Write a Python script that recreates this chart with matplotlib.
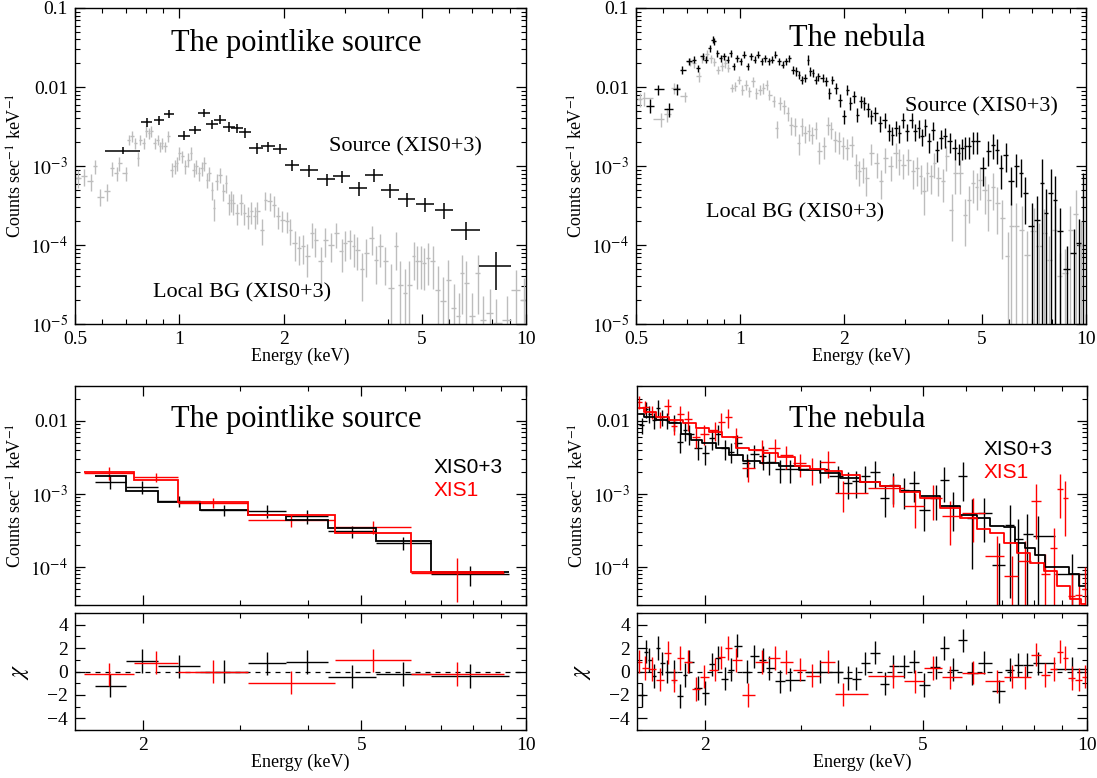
import numpy as np
import matplotlib
matplotlib.use("Agg")
import matplotlib.pyplot as plt
from matplotlib import ticker

plt.rcParams['font.family'] = ['Liberation Serif', 'DejaVu Serif']
plt.rcParams['mathtext.fontset'] = 'stix'
plt.rcParams['axes.linewidth'] = 1.0

# ---------------- top left: pointlike source, XIS0+3 ----------------
pt_src_e = [0.69, 0.805, 0.873, 0.936, 1.03, 1.11, 1.18, 1.245, 1.31, 1.39, 1.47, 1.55,
            1.67, 1.80, 1.95, 2.12, 2.37, 2.66, 2.94, 3.29, 3.65, 4.06, 4.53, 5.12, 5.81,
            6.72, 8.18]
pt_src_de = [0.08, 0.028, 0.03, 0.032, 0.041, 0.044, 0.047, 0.05, 0.052, 0.055, 0.058, 0.062,
             0.078, 0.084, 0.091, 0.099, 0.14, 0.157, 0.173, 0.194, 0.215, 0.24, 0.267, 0.30,
             0.34, 0.66, 0.87]
pt_src_c = [1.56e-3, 3.57e-3, 3.78e-3, 4.55e-3, 2.42e-3, 2.88e-3, 4.68e-3, 3.40e-3, 3.87e-3,
            3.12e-3, 3.02e-3, 2.67e-3, 1.69e-3, 1.77e-3, 1.66e-3, 1.02e-3, 8.8e-4, 6.8e-4,
            7.4e-4, 5.25e-4, 7.76e-4, 4.9e-4, 3.8e-4, 3.3e-4, 2.75e-4, 1.56e-4, 5.4e-5]
pt_src_rerr = [0.1, 0.12, 0.12, 0.12, 0.13, 0.13, 0.12, 0.13, 0.13, 0.14, 0.14, 0.15, 0.15,
               0.15, 0.15, 0.16, 0.17, 0.18, 0.18, 0.2, 0.18, 0.2, 0.2, 0.2, 0.22, 0.25, 0.5]

pt_bg_e = [0.51, 0.53, 0.555, 0.57, 0.59, 0.62, 0.64, 0.66, 0.67, 0.70,
           0.715, 0.73, 0.745, 0.76, 0.77, 0.79, 0.80, 0.82, 0.83, 0.85,
           0.865, 0.88, 0.89, 0.91, 0.93, 0.95, 0.97, 0.985, 1.00, 1.02,
           1.04, 1.06, 1.08, 1.10, 1.12, 1.14, 1.16, 1.18, 1.20, 1.22,
           1.24, 1.26, 1.28, 1.31, 1.34, 1.36, 1.39, 1.41, 1.43, 1.47,
           1.51, 1.54, 1.58, 1.61, 1.65, 1.68, 1.73, 1.77, 1.82, 1.87,
           1.93, 1.98, 2.05, 2.09, 2.15, 2.22, 2.28, 2.34, 2.41, 2.47,
           2.56, 2.64, 2.74, 2.83, 2.94, 3.01, 3.10, 3.18, 3.26, 3.36,
           3.46, 3.59, 3.69, 3.79, 3.93, 4.09, 4.23, 4.33, 4.48, 4.61,
           4.74, 4.85, 4.97, 5.08, 5.20, 5.38, 5.57, 5.76, 5.97, 6.18,
           6.39, 6.54, 6.72, 7.00, 7.25, 7.50, 7.86, 8.22, 8.81, 9.33, 9.89]
pt_bg_c = [7.05e-4, 7.4e-4, 6.4e-4, 9.9e-4, 4.1e-4, 4.8e-4, 9.4e-4, 8.15e-4, 1.09e-3, 8.15e-4,
           2.15e-3, 2.38e-3, 1.95e-3, 1.26e-3, 2.15e-3, 1.95e-3, 2.75e-3, 2.6e-3, 2.75e-3, 1.95e-3,
           2.15e-3, 1.77e-3, 1.95e-3, 1.77e-3, 2.38e-3, 9.0e-4, 9.9e-4, 1.09e-3, 1.46e-3, 1.33e-3,
           9.9e-4, 1.2e-3, 1.46e-3, 9.0e-4, 9.9e-4, 8.15e-4, 9.4e-4, 1.09e-3, 6.7e-4, 8.15e-4,
           5.0e-4, 2.9e-4, 6.4e-4, 7.8e-4, 4.8e-4, 6.1e-4, 3.4e-4, 3.75e-4, 3.4e-4, 2.54e-4,
           3.4e-4, 2.54e-4, 2.3e-4, 2.67e-4, 2.3e-4, 2.67e-4, 1.56e-4, 3.75e-4, 3.6e-4, 3.25e-4,
           2.3e-4, 2.1e-4, 2.0e-4, 1.56e-4, 1.06e-4, 9.2e-5, 9.6e-5, 7.2e-5, 1.42e-4, 1.17e-4,
           6.2e-5, 1.17e-4, 1.01e-4, 1.42e-4, 8.3e-5, 1.06e-4, 1.11e-4, 9.6e-5, 8.7e-5, 4.9e-5,
           7.9e-5, 1.23e-4, 6.5e-5, 9.6e-5, 6.2e-5, 2.86e-5, 9.6e-5, 3.15e-5, 2.47e-5, 3.15e-5,
           7.2e-5, 6.2e-5, 6.2e-5, 5.9e-5, 6.85e-5, 6.2e-5, 2.72e-5, 1.94e-5, 3.6e-5, 1.6e-5,
           1.25e-5, 4.4e-5, 3.3e-5, 1.25e-5, 4.4e-5, 1.14e-5, 1.38e-5, 1.03e-5, 1.14e-5, 2.72e-5, 2.03e-5]
pt_bg_rerr = [0.25, 0.25, 0.25, 0.2, 0.25, 0.25, 0.2, 0.2, 0.2, 0.2,
              0.15, 0.15, 0.15, 0.2, 0.15, 0.15, 0.15, 0.15, 0.15, 0.15,
              0.15, 0.15, 0.15, 0.15, 0.15, 0.2, 0.2, 0.2, 0.18, 0.18,
              0.2, 0.2, 0.18, 0.2, 0.2, 0.2, 0.2, 0.2, 0.22, 0.2,
              0.25, 0.3, 0.22, 0.22, 0.25, 0.25, 0.3, 0.3, 0.3, 0.3,
              0.3, 0.3, 0.3, 0.3, 0.3, 0.3, 0.35, 0.25, 0.25, 0.3,
              0.3, 0.3, 0.3, 0.35, 0.4, 0.4, 0.4, 0.45, 0.35, 0.4,
              0.5, 0.4, 0.4, 0.35, 0.45, 0.4, 0.4, 0.45, 0.45, 0.6,
              0.5, 0.4, 0.5, 0.45, 0.5, 1.0, 0.5, 1.0, 1.0, 1.0,
              0.5, 0.55, 0.55, 0.55, 0.55, 0.55, 1.0, 1.0, 0.8, 1.0,
              1.0, 0.7, 0.9, 1.0, 0.7, 1.0, 1.0, 1.0, 1.0, 0.8, 0.9]

# ---------------- top right: nebula, XIS0+3 ----------------
neb_src_e = [0.549, 0.579, 0.623, 0.656, 0.681, 0.713, 0.736, 0.754, 0.781, 0.796,
             0.820, 0.833, 0.843, 0.859, 0.879, 0.897, 0.921, 0.942, 0.957, 0.980,
             1.003, 1.027, 1.051, 1.076, 1.101, 1.127, 1.153, 1.180, 1.208, 1.236,
             1.265, 1.295, 1.326, 1.357, 1.389, 1.421, 1.455, 1.479, 1.506, 1.542,
             1.571, 1.596, 1.622, 1.652, 1.683, 1.732, 1.772, 1.813, 1.847, 1.899,
             1.944, 1.999, 2.037, 2.085, 2.134, 2.184, 2.236, 2.288, 2.342, 2.397,
             2.453, 2.540, 2.617, 2.691, 2.754, 2.819, 2.885, 2.966, 3.035, 3.13,
             3.20, 3.28, 3.36, 3.43, 3.52, 3.60, 3.71, 3.81, 3.90, 4.04,
             4.18, 4.28, 4.38, 4.48, 4.59, 4.70, 4.83, 5.04, 5.22, 5.40,
             5.53, 5.66, 5.86, 6.07, 6.29, 6.48, 6.66, 6.97, 7.22, 7.48,
             7.65, 7.93, 8.11, 8.40, 8.80, 9.22, 9.54, 9.77]
neb_src_c = [5.8e-3, 9.3e-3, 5.2e-3, 9.4e-3, 0.0166, 0.0211, 0.0222, 0.0174, 0.0244, 0.0222,
             0.0312, 0.0397, 0.0378, 0.0269, 0.0233, 0.0244, 0.0222, 0.0269, 0.0183, 0.0233,
             0.0211, 0.0257, 0.0183, 0.0244, 0.0222, 0.0257, 0.0211, 0.0233, 0.0211, 0.0222,
             0.0257, 0.0211, 0.0192, 0.0211, 0.0233, 0.0166, 0.0158, 0.0143, 0.0124, 0.0130,
             0.0222, 0.0158, 0.0150, 0.0124, 0.0136, 0.0130, 0.0118, 8.4e-3, 0.0124, 9.7e-3,
             6.9e-3, 4.26e-3, 9.25e-3, 6.3e-3, 7.6e-3, 4.47e-3, 6.6e-3, 6.3e-3, 5.2e-3, 4.26e-3,
             4.7e-3, 3.5e-3, 3.86e-3, 2.75e-3, 2.49e-3, 3.03e-3, 2.62e-3, 3.86e-3, 2.75e-3, 3.86e-3,
             2.75e-3, 3.03e-3, 2.38e-3, 3.18e-3, 2.05e-3, 2.88e-3, 1.61e-3, 2.26e-3, 2.38e-3, 2.05e-3,
             1.69e-3, 1.46e-3, 1.69e-3, 1.77e-3, 1.77e-3, 2.05e-3, 2.05e-3, 9.4e-4, 1.53e-3, 1.86e-3,
             1.61e-3, 9.4e-4, 1.39e-3, 6.4e-4, 9.9e-4, 8.1e-4, 4.55e-4, 1.72e-4, 2.1e-4, 6.1e-4,
             2.54e-4, 4.55e-4, 3.75e-4, 1.49e-4, 4.9e-5, 7.9e-5, 1.06e-4, 4.1e-4]
neb_src_rerr = [0.2, 0.15, 0.2, 0.15, 0.12, 0.1, 0.1, 0.1, 0.1, 0.1,
                0.1, 0.1, 0.1, 0.1, 0.1, 0.1, 0.1, 0.1, 0.1, 0.1,
                0.1, 0.1, 0.1, 0.1, 0.1, 0.1, 0.1, 0.1, 0.1, 0.1,
                0.1, 0.1, 0.1, 0.1, 0.1, 0.12, 0.12, 0.12, 0.12, 0.12,
                0.15, 0.12, 0.12, 0.12, 0.12, 0.12, 0.12, 0.15, 0.12, 0.15,
                0.18, 0.2, 0.15, 0.18, 0.18, 0.2, 0.18, 0.18, 0.2, 0.2,
                0.2, 0.22, 0.22, 0.25, 0.25, 0.22, 0.25, 0.22, 0.25, 0.22,
                0.25, 0.25, 0.25, 0.25, 0.28, 0.25, 0.3, 0.28, 0.28, 0.28,
                0.3, 0.3, 0.3, 0.3, 0.3, 0.3, 0.3, 0.4, 0.35, 0.35,
                0.35, 0.45, 0.4, 0.5, 0.45, 0.5, 0.6, 1.0, 1.0, 1.0,
                1.0, 1.0, 1.0, 1.0, 1.0, 1.0, 1.0, 1.0]

neb_bg_e = [0.512, 0.527, 0.592, 0.616, 0.645, 0.692, 0.717, 0.736, 0.760, 0.777,
            0.801, 0.824, 0.843, 0.863, 0.887, 0.904, 0.925, 0.947, 0.969, 0.992,
            1.015, 1.039, 1.063, 1.088, 1.114, 1.140, 1.167, 1.194, 1.216, 1.250,
            1.275, 1.305, 1.336, 1.373, 1.405, 1.438, 1.479, 1.506, 1.542, 1.578,
            1.615, 1.652, 1.691, 1.752, 1.793, 1.835, 1.878, 1.936, 1.981, 2.037,
            2.102, 2.160, 2.211, 2.263, 2.316, 2.397, 2.482, 2.558, 2.630, 2.723,
            2.819, 2.885, 2.966, 3.06, 3.17, 3.24, 3.33, 3.40, 3.48, 3.56,
            3.64, 3.74, 3.86, 3.95, 4.09, 4.18, 4.33, 4.48, 4.59, 4.70,
            4.83, 4.94, 5.10, 5.22, 5.38, 5.53, 5.73, 5.93, 6.07, 6.29,
            6.51, 6.74, 7.06, 7.31, 7.57, 7.84, 8.11, 8.40, 8.69, 9.01, 9.33, 9.66]
neb_bg_c = [7.0e-3, 7.2e-3, 3.9e-3, 4.5e-3, 9.7e-3, 7.6e-3, 0.021, 0.020, 0.0136, 0.023,
            0.026, 0.023, 0.021, 0.0166, 0.0183, 0.020, 0.0174, 9.7e-3, 0.0102, 0.0124,
            9.25e-3, 0.0107, 8.8e-3, 0.0118, 8.4e-3, 9.25e-3, 9.7e-3, 0.0107, 8.0e-3, 6.6e-3,
            3.0e-3, 6.3e-3, 5.7e-3, 4.7e-3, 3.3e-3, 3.2e-3, 1.95e-3, 3.2e-3, 2.6e-3, 2.75e-3,
            2.5e-3, 2.9e-3, 1.53e-3, 1.77e-3, 3.3e-3, 2.9e-3, 2.15e-3, 2.05e-3, 1.77e-3, 1.69e-3,
            1.86e-3, 1.04e-3, 8.6e-4, 9.4e-4, 7.0e-4, 1.46e-3, 1.09e-3, 6.4e-4, 1.26e-3, 9.9e-4,
            1.46e-3, 1.2e-3, 1.04e-3, 1.2e-3, 8.6e-4, 9.4e-4, 7.4e-4, 4.8e-4, 8.1e-4, 7.4e-4,
            1.09e-3, 7.0e-4, 6.4e-4, 1.33e-3, 2.8e-4, 8.1e-4, 8.1e-4, 2.4e-4, 3.75e-4, 6.1e-4,
            5.5e-4, 6.7e-4, 5.0e-4, 3.75e-4, 5.5e-4, 3.4e-4, 2.2e-4, 7.2e-5, 1.72e-4, 1.72e-4,
            1.56e-4, 7.5e-5, 1.49e-4, 9.6e-5, 1.42e-4, 6.5e-5, 1.56e-4, 4.0e-5, 4.4e-5, 1.56e-4,
            2.5e-4, 1.0e-4]
neb_bg_rerr = [0.2, 0.2, 0.2, 0.2, 0.15, 0.15, 0.12, 0.12, 0.15, 0.12,
               0.12, 0.12, 0.12, 0.12, 0.12, 0.12, 0.12, 0.12, 0.12, 0.12,
               0.15, 0.15, 0.15, 0.15, 0.15, 0.15, 0.15, 0.15, 0.15, 0.15,
               0.25, 0.18, 0.2, 0.2, 0.25, 0.25, 0.3, 0.25, 0.25, 0.25,
               0.25, 0.25, 0.3, 0.3, 0.25, 0.25, 0.3, 0.3, 0.3, 0.3,
               0.3, 0.35, 0.35, 0.35, 0.4, 0.3, 0.35, 0.4, 0.35, 0.35,
               0.35, 0.35, 0.35, 0.35, 0.4, 0.4, 0.4, 0.5, 0.4, 0.4,
               0.35, 0.4, 0.45, 0.35, 0.6, 0.45, 0.45, 0.6, 0.5, 0.45,
               0.5, 0.45, 0.5, 0.6, 0.5, 0.6, 0.7, 1.0, 1.0, 1.0,
               1.0, 1.0, 1.0, 1.0, 1.0, 1.0, 1.0, 1.0, 1.0, 1.0, 1.0, 1.0]

# ---------------- bottom left: pointlike source fit ----------------
pt_x03_edges = [1.63, 1.86, 2.13, 2.54, 3.10, 3.65, 4.34, 5.32, 6.70, 9.3]
pt_x03_data = [1.47e-3, 1.26e-3, 8.0e-4, 6.0e-4, 5.8e-4, 4.9e-4, 3.05e-4, 2.15e-4, 7.9e-5]
pt_x03_rerr = [0.2, 0.2, 0.18, 0.18, 0.2, 0.22, 0.18, 0.2, 0.3]
pt_x03_model = [1.74e-3, 1.10e-3, 7.7e-4, 6.05e-4, 5.2e-4, 4.4e-4, 3.4e-4, 2.24e-4, 8.55e-5]
pt_x03_resid = [-1.2, 0.9, 0.45, 0.0, 0.7, 0.8, -0.45, -0.2, -0.4]

pt_x1_edges = [1.56, 1.92, 2.31, 3.11, 4.47, 6.17, 9.1]
pt_x1_data = [1.95e-3, 1.69e-3, 7.6e-4, 4.33e-4, 3.5e-4, 8.3e-5]
pt_x1_rerr = [0.2, 0.15, 0.15, 0.18, 0.2, 0.6]
pt_x1_model = [2.02e-3, 1.55e-3, 7.85e-4, 5.2e-4, 2.9e-4, 8.5e-5]
pt_x1_resid = [-0.25, 0.75, 0.0, -0.95, 0.95, -0.2]

# ---------------- bottom right: nebula fit ----------------
neb_x03_e = [1.53, 1.56, 1.58, 1.61, 1.64, 1.67, 1.70, 1.75, 1.80, 1.84,
             1.87, 1.94, 2.00, 2.06, 2.11, 2.17, 2.23, 2.29, 2.38, 2.46,
             2.55, 2.62, 2.74, 2.86, 3.24, 3.50, 3.65, 3.78, 3.93, 4.09,
             4.26, 4.42, 4.62, 4.82, 5.03, 5.29, 5.47, 5.69, 5.92, 6.15,
             6.48, 6.90, 7.23, 7.49, 7.76, 8.15, 9.38]
neb_x03_c = [8.7e-3, 0.0147, 0.0126, 0.0103, 0.0152, 0.0113, 0.0102, 9.7e-3, 5.2e-3, 7.5e-3,
             6.7e-3, 4.2e-3, 3.6e-3, 5.75e-3, 6.7e-3, 4.2e-3, 3.8e-3, 4.9e-3, 2.63e-3, 3.5e-3,
             3.3e-3, 2.77e-3, 2.18e-3, 2.18e-3, 2.18e-3, 1.73e-3, 1.4e-3, 1.48e-3, 1.73e-3, 2.02e-3,
             8.8e-4, 1.33e-3, 1.14e-3, 1.4e-3, 6.1e-4, 8.8e-4, 1.56e-3, 6.8e-4, 1.77e-3, 4.7e-4,
             5.5e-4, 1.05e-4, 3.7e-4, 2.38e-4, 2.78e-4, 2.64e-4, 7.9e-5]
neb_x03_rerr = [0.25, 0.25, 0.25, 0.25, 0.25, 0.25, 0.25, 0.25, 0.3, 0.3,
                0.3, 0.3, 0.3, 0.3, 0.3, 0.3, 0.3, 0.3, 0.35, 0.35,
                0.35, 0.35, 0.35, 0.35, 0.35, 0.4, 0.4, 0.4, 0.4, 0.4,
                0.45, 0.45, 0.45, 0.45, 0.5, 0.5, 0.5, 0.55, 0.55, 0.8,
                0.6, 1.0, 0.9, 0.9, 0.9, 0.9, 0.9]
neb_x03_resid = [-2.0, 1.7, 1.0, -0.4, 2.0, 0.7, 0.0, 0.0, -2.1, -0.3,
                 0.85, -1.4, -1.85, 0.6, 1.15, -0.6, 0.15, 2.2, 0.0, 1.3,
                 1.0, 0.3, -0.85, -0.7, 0.0, 0.0, -0.55, -0.6, 0.7, 1.6,
                 -1.05, 0.45, 0.45, 0.85, -1.15, 0.35, 2.0, 0.15, 2.65, -0.15,
                 0.75, -1.7, 0.15, 0.55, 0.55, 0.7, 0.2]

neb_x1_e = [1.51, 1.55, 1.60, 1.65, 1.71, 1.75, 1.80, 1.86, 1.92, 1.99,
            2.08, 2.14, 2.20, 2.28, 2.40, 2.54, 2.68, 2.81, 2.98, 3.14,
            3.36, 3.57, 4.42, 4.84, 5.23, 5.61, 6.19, 6.83, 7.28, 7.70,
            8.07, 8.38, 8.71, 8.93, 9.12, 9.38, 9.65, 9.93]
neb_x1_c = [0.0182, 0.0155, 0.0133, 0.0107, 0.0158, 8.5e-3, 0.0126, 0.0105, 6.05e-3, 6.7e-3,
            7.5e-3, 9.7e-3, 0.0113, 6.05e-3, 2.25e-3, 4.0e-3, 4.2e-3, 3.4e-3, 2.63e-3, 2.18e-3,
            2.77e-3, 1.03e-3, 1.2e-3, 6.8e-4, 8.8e-4, 4.95e-4, 5.5e-4, 1.41e-4, 7.5e-5, 1.2e-4,
            7.9e-4, 8.0e-5, 1.8e-4, 1.16e-3, 8.8e-4, 4.0e-5, 4.1e-5, 4.9e-5]
neb_x1_rerr = [0.2, 0.2, 0.2, 0.25, 0.25, 0.25, 0.25, 0.3, 0.3, 0.3,
               0.3, 0.3, 0.3, 0.3, 0.35, 0.35, 0.35, 0.35, 0.35, 0.4,
               0.4, 0.45, 0.45, 0.5, 0.5, 0.6, 0.6, 0.9, 0.9, 0.9,
               0.7, 0.9, 0.9, 0.6, 0.7, 1.0, 1.0, 1.0]
neb_x1_resid = [0.85, 0.3, 0.2, -0.7, 1.6, -0.75, 1.15, 0.85, -1.5, -0.45,
                0.15, 1.2, 2.0, 1.0, -2.0, 0.8, 1.15, 0.8, 0.15, -0.35,
                0.85, -1.95, -0.4, -0.85, 0.3, -0.5, -0.1, -0.85, -0.45, -0.5,
                1.45, -0.3, 0.2, 1.7, 1.15, -0.55, -0.7, -0.45]

neb_x03_mod_e = [1.51, 1.58, 1.67, 1.77, 1.84, 1.92, 2.03, 2.15, 2.28, 2.41, 2.62, 2.85, 3.10,
                 3.38, 3.68, 4.00, 4.35, 4.74, 5.15, 5.61, 6.11, 6.46, 6.84, 7.23, 7.54, 7.87,
                 8.21, 8.56, 9.06, 9.45, 9.86]
neb_x03_mod = [0.0123, 0.0113, 0.0104, 9.2e-3, 6.7e-3, 5.5e-3, 5.0e-3, 4.3e-3, 3.4e-3, 2.86e-3,
               2.63e-3, 2.4e-3, 2.1e-3, 1.92e-3, 1.67e-3, 1.43e-3, 1.29e-3, 1.08e-3, 9.2e-4,
               6.9e-4, 5.2e-4, 4.7e-4, 3.6e-4, 3.55e-4, 2.15e-4, 1.8e-4, 1.43e-4, 9.8e-5, 9.8e-5,
               8.0e-5, 5.5e-5]
neb_x1_mod_e = [1.51, 1.58, 1.67, 1.77, 1.87, 1.98, 2.09, 2.21, 2.34, 2.48, 2.62, 2.81, 3.02,
                3.19, 3.43, 3.68, 4.00, 4.35, 4.74, 5.15, 5.61, 6.11, 6.46, 6.84, 7.23, 7.65,
                8.10, 8.56, 9.06, 9.59, 9.93]
neb_x1_mod = [0.0152, 0.0132, 0.0113, 0.0104, 9.2e-3, 7.9e-3, 7.1e-3, 6.0e-3, 4.2e-3, 4.0e-3,
              3.6e-3, 3.2e-3, 2.37e-3, 2.2e-3, 2.03e-3, 1.8e-3, 1.43e-3, 1.27e-3, 1.05e-3, 8.8e-4,
              6.4e-4, 4.7e-4, 3.3e-4, 2.9e-4, 2.15e-4, 1.56e-4, 1.14e-4, 8.9e-5, 5.5e-5, 3.6e-5,
              3.1e-5]

GRAY = '#bdbdbd'
RED = '#ff0000'
W, H = 1097, 778


def box(x0, y0, x1, y1):
    return [x0 / W, 1 - y1 / H, (x1 - x0) / W, (y1 - y0) / H]


def halfwidths(e):
    le = np.log10(np.asarray(e, float))
    d = np.diff(le) / 2
    dl = np.r_[d[0], d]
    dr = np.r_[d, d[-1]]
    return [10**le - 10**(le - dl), 10**(le + dr) - 10**le]


def crosses(ax, e, c, rerr, color, lw=1.0, xerr=None, z=2):
    e = np.asarray(e, float)
    c = np.asarray(c, float)
    r = np.asarray(rerr, float)
    if xerr is None:
        xerr = halfwidths(e)
    lo = np.minimum(c * r, c * 0.999)
    ax.errorbar(e, c, xerr=xerr, yerr=[lo, c * r], fmt='none', ecolor=color,
                elinewidth=lw, capsize=0, zorder=z)


def edge_xerr(edges):
    ed = np.asarray(edges, float)
    mid = np.sqrt(ed[:-1] * ed[1:])
    return mid, [mid - ed[:-1], ed[1:] - mid]


def log_axis(axis, ticks, labels):
    axis.set_major_locator(ticker.FixedLocator(ticks))
    axis.set_major_formatter(ticker.FixedFormatter(labels))
    axis.set_minor_locator(ticker.LogLocator(base=10, subs=np.arange(2, 10) * 1.0, numticks=30))
    axis.set_minor_formatter(ticker.NullFormatter())


def style(ax):
    ax.tick_params(which='both', direction='in', top=True, right=True, labelsize=14)
    ax.tick_params(which='major', length=7, width=0.9, pad=5)
    ax.tick_params(which='minor', length=3.5, width=0.8)


ylab = r'Counts sec$^{-1}$ keV$^{-1}$'
fig = plt.figure(figsize=(10.97, 7.78), dpi=100)

# top panels
ax_tl = fig.add_axes(box(75, 8, 526, 324))
ax_tr = fig.add_axes(box(636, 8, 1086, 324))
for ax in (ax_tl, ax_tr):
    ax.set_xscale('log')
    ax.set_yscale('log')
    log_axis(ax.xaxis, [0.5, 1, 2, 5, 10], ['0.5', '1', '2', '5', '10'])
    log_axis(ax.yaxis, [1e-5, 1e-4, 1e-3, 1e-2, 1e-1],
             [r'$10^{-5}$', r'$10^{-4}$', r'$10^{-3}$', '0.01', '0.1'])
    ax.set_xlim(0.5, 10)
    ax.set_ylim(1e-5, 0.1)
    style(ax)
    ax.set_xlabel('Energy (keV)', fontsize=13, labelpad=0)
    ax.set_ylabel(ylab, fontsize=13, labelpad=3)

crosses(ax_tl, pt_bg_e, pt_bg_c, pt_bg_rerr, GRAY, lw=1.0)
crosses(ax_tl, pt_src_e, pt_src_c, pt_src_rerr, 'black', lw=1.1, xerr=pt_src_de, z=3)
ax_tl.text(0.49, 0.889, 'The pointlike source', transform=ax_tl.transAxes,
           ha='center', va='center', fontsize=22)
ax_tl.text(0.732, 0.56, 'Source (XIS0+3)', transform=ax_tl.transAxes,
           ha='center', va='center', fontsize=16)
ax_tl.text(0.37, 0.098, 'Local BG (XIS0+3)', transform=ax_tl.transAxes,
           ha='center', va='center', fontsize=16)

crosses(ax_tr, neb_bg_e, neb_bg_c, neb_bg_rerr, GRAY, lw=1.0)
crosses(ax_tr, neb_src_e, neb_src_c, neb_src_rerr, 'black', lw=1.0, z=3)
ax_tr.text(0.492, 0.905, 'The nebula', transform=ax_tr.transAxes,
           ha='center', va='center', fontsize=22)
ax_tr.text(0.767, 0.687, 'Source (XIS0+3)', transform=ax_tr.transAxes,
           ha='center', va='center', fontsize=16)
ax_tr.text(0.353, 0.351, 'Local BG (XIS0+3)', transform=ax_tr.transAxes,
           ha='center', va='center', fontsize=16)

# bottom panels
ax_bl = fig.add_axes(box(75, 386, 526, 605))
ax_blr = fig.add_axes(box(75, 613, 526, 730), sharex=ax_bl)
ax_br = fig.add_axes(box(637, 386, 1087, 605))
ax_brr = fig.add_axes(box(637, 613, 1087, 730), sharex=ax_br)

for ax, axr in ((ax_bl, ax_blr), (ax_br, ax_brr)):
    ax.set_xscale('log')
    ax.set_yscale('log')
    log_axis(ax.xaxis, [2, 5, 10], ['2', '5', '10'])
    log_axis(ax.yaxis, [1e-4, 1e-3, 1e-2], [r'$10^{-4}$', r'$10^{-3}$', '0.01'])
    ax.set_xlim(1.5, 10)
    ax.set_ylim(3e-5, 0.03)
    style(ax)
    ax.tick_params(labelbottom=False)
    ax.set_ylabel(ylab, fontsize=13, labelpad=3)
    axr.set_ylim(-5, 5)
    axr.yaxis.set_major_locator(ticker.FixedLocator([-4, -2, 0, 2, 4]))
    axr.yaxis.set_major_formatter(ticker.FixedFormatter(['\u22124', '\u22122', '0', '2', '4']))
    axr.yaxis.set_minor_locator(ticker.MultipleLocator(1))
    style(axr)
    axr.axhline(0, color='black', lw=0.9, ls=(0, (4, 4)), zorder=1)
    axr.set_xlabel('Energy (keV)', fontsize=13, labelpad=0)
    axr.set_ylabel(r'$\chi$', fontsize=17, labelpad=12)

# pointlike source fit
c03, xe03 = edge_xerr(pt_x03_edges)
c1, xe1 = edge_xerr(pt_x1_edges)
ax_bl.stairs(pt_x03_model, pt_x03_edges, color='black', lw=1.3, baseline=None, zorder=3)
ax_bl.stairs(pt_x1_model, pt_x1_edges, color=RED, lw=1.3, baseline=None, zorder=3)
crosses(ax_bl, c03, pt_x03_data, pt_x03_rerr, 'black', lw=1.0, xerr=xe03)
crosses(ax_bl, c1, pt_x1_data, pt_x1_rerr, RED, lw=1.0, xerr=xe1)
ax_blr.errorbar(c03, pt_x03_resid, xerr=xe03, yerr=1.0, fmt='none', ecolor='black',
                elinewidth=1.0, capsize=0)
ax_blr.errorbar(c1, pt_x1_resid, xerr=xe1, yerr=1.0, fmt='none', ecolor=RED,
                elinewidth=1.0, capsize=0)
ax_bl.text(0.49, 0.845, 'The pointlike source', transform=ax_bl.transAxes,
           ha='center', va='center', fontsize=22)
ax_bl.text(0.794, 0.626, 'XIS0+3', transform=ax_bl.transAxes, ha='left', va='center',
           fontsize=15, family='Liberation Sans', color='black')
ax_bl.text(0.794, 0.525, 'XIS1', transform=ax_bl.transAxes, ha='left', va='center',
           fontsize=15, family='Liberation Sans', color=RED)

# nebula fit
ax_br.step(neb_x03_mod_e, neb_x03_mod, where='mid', color='black', lw=1.3, zorder=3)
ax_br.step(neb_x1_mod_e, neb_x1_mod, where='mid', color=RED, lw=1.3, zorder=3)
crosses(ax_br, neb_x03_e, neb_x03_c, neb_x03_rerr, 'black', lw=1.0)
crosses(ax_br, neb_x1_e, neb_x1_c, neb_x1_rerr, RED, lw=1.0)
ax_brr.errorbar(neb_x03_e, neb_x03_resid, xerr=halfwidths(neb_x03_e), yerr=1.0, fmt='none',
                ecolor='black', elinewidth=1.0, capsize=0)
ax_brr.errorbar(neb_x1_e, neb_x1_resid, xerr=halfwidths(neb_x1_e), yerr=1.0, fmt='none',
                ecolor=RED, elinewidth=1.0, capsize=0)
ax_br.text(0.489, 0.845, 'The nebula', transform=ax_br.transAxes,
           ha='center', va='center', fontsize=22)
ax_br.text(0.769, 0.708, 'XIS0+3', transform=ax_br.transAxes, ha='left', va='center',
           fontsize=15, family='Liberation Sans', color='black')
ax_br.text(0.769, 0.603, 'XIS1', transform=ax_br.transAxes, ha='left', va='center',
           fontsize=15, family='Liberation Sans', color=RED)

fig.savefig('out.png', dpi=100)
